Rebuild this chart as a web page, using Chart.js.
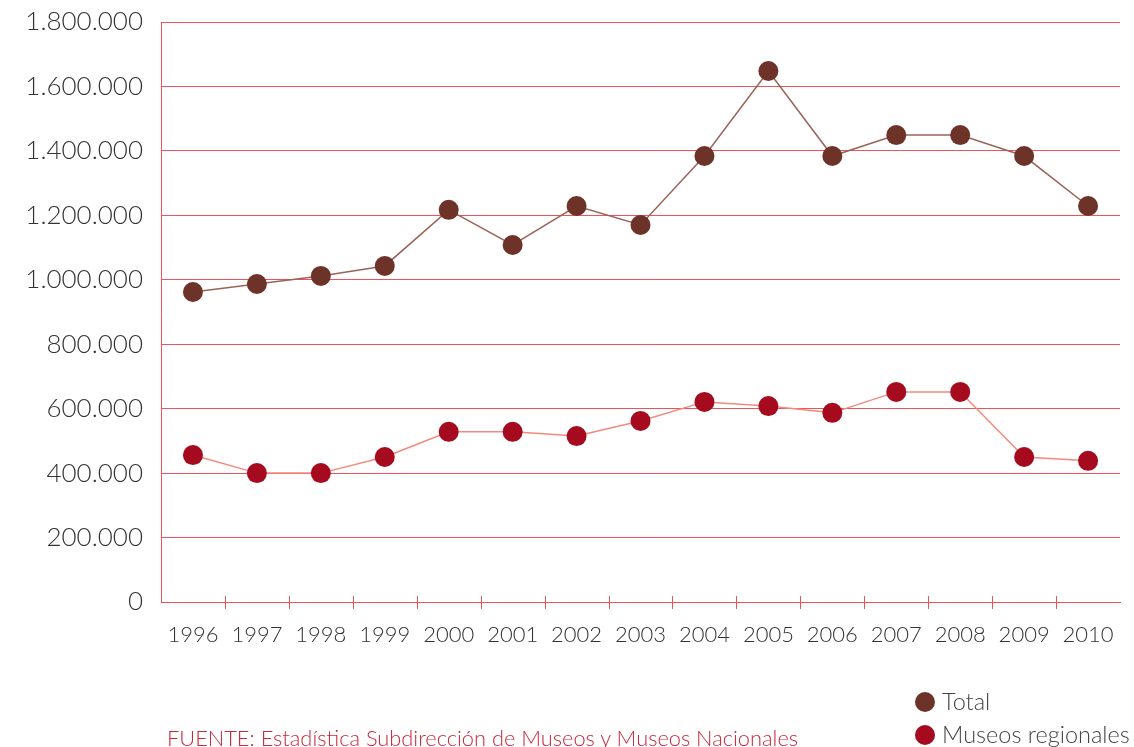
<!DOCTYPE html>
<html>
<head>
<meta charset="utf-8">
<script src="https://cdn.jsdelivr.net/npm/chart.js@4"></script>
<style>
    body { margin: 0; background: #fff; font-family: Lato, 'Open Sans', sans-serif; }
    #wrap { position: relative; width: 1134px; height: 747px; overflow: hidden; }
    .leg { position: absolute; left: 915px; font-size: 23.5px; color: #444; font-weight: 300; white-space: nowrap; }
    .leg span { display: inline-block; width: 20px; height: 20px; border-radius: 50%; vertical-align: -2px; margin-right: 7px; }
    #fuente { position: absolute; left: 167px; top: 724px; font-size: 21.8px; color: #c8283a; font-weight: 300; white-space: nowrap; }
</style>
</head>
<body>
<div id="wrap">
    <canvas id="lineChart" width="1134" height="747"></canvas>
    <div class="leg" style="top: 687px;"><span style="background:#6e3328"></span>Total</div>
    <div class="leg" style="top: 720px;"><span style="background:#a50a1e"></span>Museos regionales</div>
    <div id="fuente">FUENTE: Estadística Subdirección de Museos y Museos Nacionales</div>
</div>
<script>
const years = ['1996', '1997', '1998', '1999', '2000', '2001', '2002', '2003', '2004', '2005', '2006', '2007', '2008', '2009', '2010'];
const total = [962000, 987000, 1012000, 1043000, 1217000, 1108000, 1229000, 1170000, 1384000, 1648000, 1384000, 1449000, 1449000, 1384000, 1229000];
const regionales = [456000, 400000, 400000, 450000, 528000, 528000, 515000, 562000, 621000, 608000, 587000, 652000, 652000, 450000, 438000];

const gridRed = '#f0525a';

// marcas del eje x entre categorías
const tickMarks = {
    id: 'tickMarks',
    afterDraw(chart) {
        const x = chart.scales.x;
        const bottom = chart.chartArea.bottom;
        const ctx = chart.ctx;
        ctx.save();
        ctx.strokeStyle = gridRed;
        ctx.lineWidth = 1;
        for (let i = 0; i < years.length - 1; i++) {
            const px = Math.round((x.getPixelForValue(i) + x.getPixelForValue(i + 1)) / 2) + 0.5;
            ctx.beginPath();
            ctx.moveTo(px, bottom - 6);
            ctx.lineTo(px, bottom + 7);
            ctx.stroke();
        }
        ctx.restore();
    }
};

const ctx = document.getElementById('lineChart').getContext('2d');
new Chart(ctx, {
    type: 'line',
    data: {
        labels: years,
        datasets: [{
            label: 'Total',
            data: total,
            borderColor: '#9a6358',
            borderWidth: 1.5,
            pointRadius: 10,
            pointBackgroundColor: '#6e3328',
            pointBorderWidth: 0,
            tension: 0
        }, {
            label: 'Museos regionales',
            data: regionales,
            borderColor: '#f4897c',
            borderWidth: 1.5,
            pointRadius: 10,
            pointBackgroundColor: '#a50a1e',
            pointBorderWidth: 0,
            tension: 0
        }]
    },
    options: {
        responsive: false,
        animation: false,
        layout: {
            padding: { left: 0, top: 22, right: 12, bottom: 100 }
        },
        plugins: {
            legend: { display: false },
            tooltip: { enabled: false }
        },
        scales: {
            x: {
                offset: true,
                grid: { display: false, drawTicks: false },
                border: { display: true, color: gridRed, width: 1 },
                ticks: {
                    color: '#333',
                    padding: 20,
                    font: { family: 'Lato', size: 22, weight: '300' },
                    maxRotation: 0
                },
                afterFit(scale) { scale.height = 45; }
            },
            y: {
                min: 0,
                max: 1800000,
                ticks: {
                    stepSize: 200000,
                    color: '#333',
                    padding: 18,
                    font: { family: 'Lato', size: 26, weight: '300' },
                    callback: v => String(v).replace(/\B(?=(\d{3})+(?!\d))/g, '.')
                },
                grid: { color: gridRed, lineWidth: 1, drawTicks: false },
                border: { display: true, color: gridRed, width: 1 },
                afterFit(scale) {
                    scale.width = 161;
                    scale.paddingTop = 0;
                    scale.paddingBottom = 0;
                }
            }
        }
    },
    plugins: [tickMarks]
});
</script>
</body>
</html>
